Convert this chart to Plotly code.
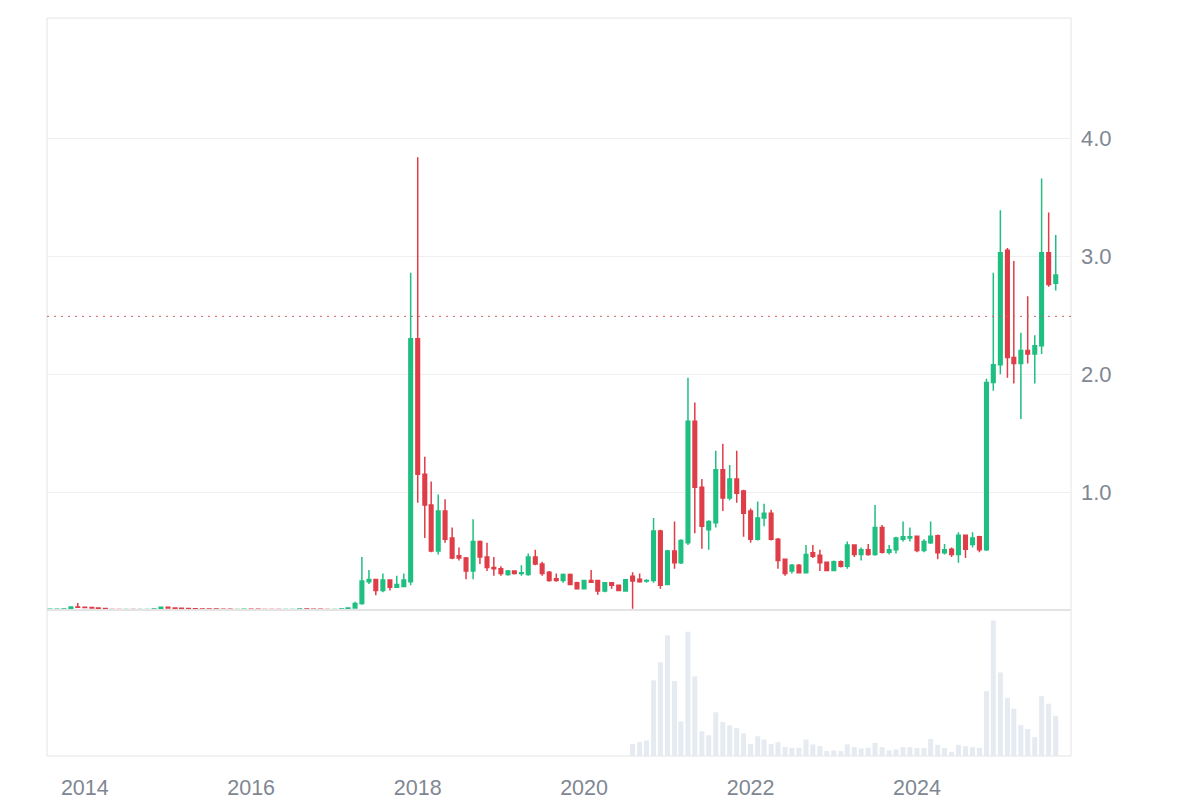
import pandas as pd
import plotly.graph_objects as go

# Monthly OHLC, Aug 2013 -> Sep 2025 (USD)
open_ = [
    0.0056, 0.0060, 0.0062, 0.0088, 0.0260,
    0.0230, 0.0210, 0.0170, 0.0120, 0.0050, 0.0042, 0.0040, 0.0042, 0.0038, 0.0040, 0.0041, 0.0085,
    0.0240, 0.0160, 0.0140, 0.0120, 0.0095, 0.0085, 0.0080, 0.0075, 0.0070, 0.0052, 0.0042, 0.0050,
    0.0058, 0.0055, 0.0048, 0.0045, 0.0043, 0.0042, 0.0044, 0.0045, 0.0085, 0.0065, 0.0052, 0.0045,
    0.0042, 0.0044, 0.0075, 0.0160, 0.0550, 0.2400, 0.2580, 0.1650, 0.2550, 0.1920, 0.2000, 0.2400,
    2.30, 1.15, 0.89, 0.50, 0.84, 0.61, 0.46, 0.44, 0.33, 0.58, 0.45, 0.36,
    0.35, 0.30, 0.33, 0.31, 0.30, 0.45, 0.39, 0.32, 0.265, 0.25, 0.30, 0.23,
    0.18, 0.25, 0.25, 0.16, 0.23, 0.21, 0.16, 0.285, 0.26, 0.245, 0.25, 0.67,
    0.215, 0.50, 0.40, 0.57, 1.60, 1.04, 0.68, 0.74, 1.19, 0.95, 1.11, 1.01,
    0.84, 0.60, 0.78, 0.82, 0.60, 0.43, 0.33, 0.38, 0.315, 0.485, 0.465, 0.405,
    0.335, 0.41, 0.37, 0.55, 0.47, 0.51, 0.47, 0.70, 0.49, 0.51, 0.60, 0.61,
    0.625, 0.505, 0.57, 0.63, 0.485, 0.515, 0.47, 0.634, 0.555, 0.62, 0.51, 1.93,
    2.08, 3.05, 2.14, 2.09, 2.20, 2.17, 2.24, 3.03, 2.77,
]
high = [
    0.0066, 0.0068, 0.0090, 0.0300, 0.0600,
    0.0300, 0.0230, 0.0180, 0.0130, 0.0055, 0.0048, 0.0046, 0.0045, 0.0044, 0.0045, 0.0090, 0.0280,
    0.0260, 0.0170, 0.0150, 0.0125, 0.0100, 0.0095, 0.0090, 0.0085, 0.0075, 0.0055, 0.0060, 0.0068,
    0.0075, 0.0070, 0.0052, 0.0050, 0.0048, 0.0047, 0.0048, 0.0090, 0.0095, 0.0072, 0.0055, 0.0050,
    0.0048, 0.0080, 0.0200, 0.0700, 0.4500, 0.3400, 0.2600, 0.3100, 0.2600, 0.2900, 0.3100, 2.8600,
    3.84, 1.30, 1.09, 0.98, 0.94, 0.70, 0.53, 0.45, 0.77, 0.59, 0.57, 0.45,
    0.37, 0.34, 0.33, 0.38, 0.48, 0.51, 0.41, 0.33, 0.31, 0.31, 0.31, 0.24,
    0.25, 0.34, 0.25, 0.23, 0.235, 0.215, 0.26, 0.32, 0.31, 0.26, 0.78, 0.68,
    0.51, 0.75, 0.60, 1.97, 1.76, 1.11, 0.76, 1.35, 1.41, 1.23, 1.35, 1.02,
    0.86, 0.92, 0.90, 0.85, 0.61, 0.43, 0.39, 0.39, 0.55, 0.55, 0.51, 0.41,
    0.42, 0.42, 0.58, 0.55, 0.53, 0.56, 0.89, 0.72, 0.55, 0.62, 0.75, 0.70,
    0.63, 0.60, 0.75, 0.64, 0.56, 0.53, 0.66, 0.64, 0.66, 0.63, 1.96, 2.86,
    3.39, 3.07, 2.96, 2.35, 2.66, 2.33, 3.66, 3.37, 3.18,
]
low = [
    0.0047, 0.0050, 0.0058, 0.0080, 0.0170,
    0.0190, 0.0130, 0.0110, 0.0050, 0.0038, 0.0036, 0.0036, 0.0035, 0.0034, 0.0036, 0.0040, 0.0080,
    0.0120, 0.0110, 0.0100, 0.0085, 0.0075, 0.0070, 0.0070, 0.0065, 0.0050, 0.0038, 0.0038, 0.0045,
    0.0050, 0.0045, 0.0040, 0.0040, 0.0038, 0.0038, 0.0040, 0.0044, 0.0060, 0.0050, 0.0040, 0.0038,
    0.0038, 0.0042, 0.0070, 0.0150, 0.0450, 0.2200, 0.1250, 0.1500, 0.1650, 0.1900, 0.1950, 0.2100,
    0.91, 0.61, 0.49, 0.47, 0.57, 0.43, 0.42, 0.26, 0.26, 0.39, 0.33, 0.29,
    0.29, 0.29, 0.30, 0.29, 0.29, 0.38, 0.29, 0.24, 0.24, 0.23, 0.21, 0.18,
    0.18, 0.23, 0.13, 0.15, 0.18, 0.17, 0.16, 0.01, 0.23, 0.23, 0.23, 0.18,
    0.21, 0.35, 0.39, 0.55, 0.65, 0.52, 0.51, 0.70, 0.84, 0.93, 0.91, 0.62,
    0.57, 0.59, 0.71, 0.59, 0.35, 0.29, 0.31, 0.31, 0.31, 0.44, 0.33, 0.33,
    0.33, 0.36, 0.35, 0.45, 0.42, 0.46, 0.46, 0.48, 0.47, 0.48, 0.58, 0.58,
    0.49, 0.49, 0.56, 0.43, 0.47, 0.45, 0.40, 0.44, 0.53, 0.49, 0.50, 1.86,
    2.00, 1.97, 1.92, 1.62, 2.09, 1.92, 2.17, 2.74, 2.71,
]
close = [
    0.0060, 0.0062, 0.0088, 0.0260, 0.0230,
    0.0210, 0.0170, 0.0120, 0.0050, 0.0042, 0.0040, 0.0042, 0.0038, 0.0040, 0.0041, 0.0085, 0.0240,
    0.0160, 0.0140, 0.0120, 0.0095, 0.0085, 0.0080, 0.0075, 0.0070, 0.0052, 0.0042, 0.0050, 0.0058,
    0.0055, 0.0048, 0.0045, 0.0043, 0.0042, 0.0044, 0.0045, 0.0085, 0.0065, 0.0052, 0.0045, 0.0042,
    0.0044, 0.0075, 0.0160, 0.0550, 0.2450, 0.2580, 0.1650, 0.2550, 0.1920, 0.2150, 0.2550, 2.3000,
    1.15, 0.89, 0.50, 0.84, 0.60, 0.44, 0.44, 0.33, 0.58, 0.45, 0.36, 0.35,
    0.31, 0.33, 0.31, 0.315, 0.45, 0.39, 0.31, 0.25, 0.25, 0.30, 0.215, 0.18,
    0.25, 0.235, 0.16, 0.23, 0.21, 0.165, 0.257, 0.245, 0.24, 0.25, 0.67, 0.21,
    0.50, 0.40, 0.59, 1.60, 1.04, 0.71, 0.75, 1.19, 0.95, 1.11, 0.99, 0.82,
    0.60, 0.78, 0.82, 0.60, 0.42, 0.31, 0.38, 0.315, 0.47, 0.455, 0.40, 0.335,
    0.41, 0.37, 0.55, 0.47, 0.51, 0.47, 0.70, 0.49, 0.51, 0.61, 0.62, 0.62,
    0.505, 0.58, 0.625, 0.485, 0.51, 0.47, 0.634, 0.515, 0.61, 0.51, 1.93, 2.08,
    3.03, 2.14, 2.09, 2.20, 2.17, 2.24, 3.03, 2.76, 2.84,
]
# Monthly trading volume (relative units); no data before Aug 2020
volume = [0.0] * 84 + [
    12.3, 14.3, 15.7, 76.7, 95.0,
    122.3, 76.0, 35.0, 126.0, 80.7, 25.0, 21.0, 44.3, 34.3, 31.0, 28.3, 23.0,
    12.3, 20.0, 16.7, 12.3, 14.0, 9.0, 8.3, 8.3, 16.7, 11.7, 10.0, 5.0,
    5.7, 5.0, 11.7, 9.0, 7.7, 8.3, 13.3, 9.0, 5.7, 6.7, 9.0, 9.0,
    8.0, 8.0, 17.3, 11.3, 8.0, 4.0, 11.3, 10.0, 9.0, 8.3, 65.7, 137.3,
    84.7, 59.0, 48.0, 31.3, 27.3, 19.0, 60.7, 53.0, 40.7,
]
last_price = 2.49
tick_years = ["2014", "2016", "2018", "2020", "2022", "2024"]
price_ticks = [1.0, 2.0, 3.0, 4.0]

months = pd.date_range("2013-08-01", periods=len(open_), freq="MS")

UP = "#1fbf81"
DOWN = "#df3d48"
GRID = "#efefef"
FRAME = "#e4e4e4"
LABEL = "#7f8793"
FONT = "Liberation Sans, Arial, sans-serif"

W, H = 1200, 812
L, R, T, B = 47, W - 1071, 18, 46
VOL_FRAC = 148 / (H - T - B)

fig = go.Figure()
fig.add_trace(go.Candlestick(
    x=months, open=open_, high=high, low=low, close=close,
    increasing=dict(line=dict(color=UP, width=1.5), fillcolor=UP),
    decreasing=dict(line=dict(color=DOWN, width=1.5), fillcolor=DOWN),
    whiskerwidth=0, yaxis="y", showlegend=False, hoverinfo="x+y",
))
fig.add_trace(go.Bar(
    x=months, y=volume, yaxis="y2", marker=dict(color="#e6ebf1", line=dict(width=0)),
    width=22 * 86400000, showlegend=False,
))

fig.update_layout(
    width=W, height=H,
    margin=dict(l=L, r=R, t=T, b=B, pad=0),
    paper_bgcolor="white", plot_bgcolor="white",
    font=dict(family=FONT, size=22, color=LABEL),
    boxgap=0.2,
    xaxis=dict(
        type="date", range=["2013-07-19", "2025-11-07"],
        tickvals=[f"{y}-01-01" for y in tick_years], ticktext=tick_years,
        showgrid=False, zeroline=False, showline=False, ticks="",
        ticklabelstandoff=16, rangeslider=dict(visible=False), anchor="y2",
        tickfont=dict(size=21.5, color=LABEL),
    ),
    yaxis=dict(
        domain=[VOL_FRAC, 1], range=[0, 5.02], side="right",
        tickvals=price_ticks, ticktext=[f"{v:.1f}" for v in price_ticks],
        showgrid=True, gridcolor=GRID, gridwidth=1, zeroline=False, showline=False,
        ticks="", ticklabelstandoff=9, tickfont=dict(size=22, color=LABEL),
    ),
    yaxis2=dict(
        domain=[0, VOL_FRAC], range=[0, 148], showgrid=False, zeroline=False,
        showticklabels=False, showline=False,
    ),
    shapes=[
        dict(type="rect", xref="paper", yref="paper", x0=0, x1=1, y0=0, y1=1,
             line=dict(color=FRAME, width=1), fillcolor="rgba(0,0,0,0)", layer="below"),
        dict(type="line", xref="paper", yref="paper", x0=0, x1=1, y0=VOL_FRAC, y1=VOL_FRAC,
             line=dict(color=FRAME, width=2), layer="above"),
        dict(type="line", xref="paper", yref="y", x0=0, x1=1, y0=last_price, y1=last_price,
             line=dict(color="#c8606a", width=1, dash="2px,5px")),
    ],
)

fig.write_html(
    "out.html",
    config=dict(displayModeBar=False),
    post_script=(
        "var gd=document.getElementById('{plot_id}');"
        "gd.style.position='fixed';gd.style.left='0px';gd.style.top='0px';"
        "document.documentElement.style.margin='0';document.body.style.margin='0';"
        "document.documentElement.style.overflow='hidden';document.body.style.overflow='hidden';"
    ),
)
